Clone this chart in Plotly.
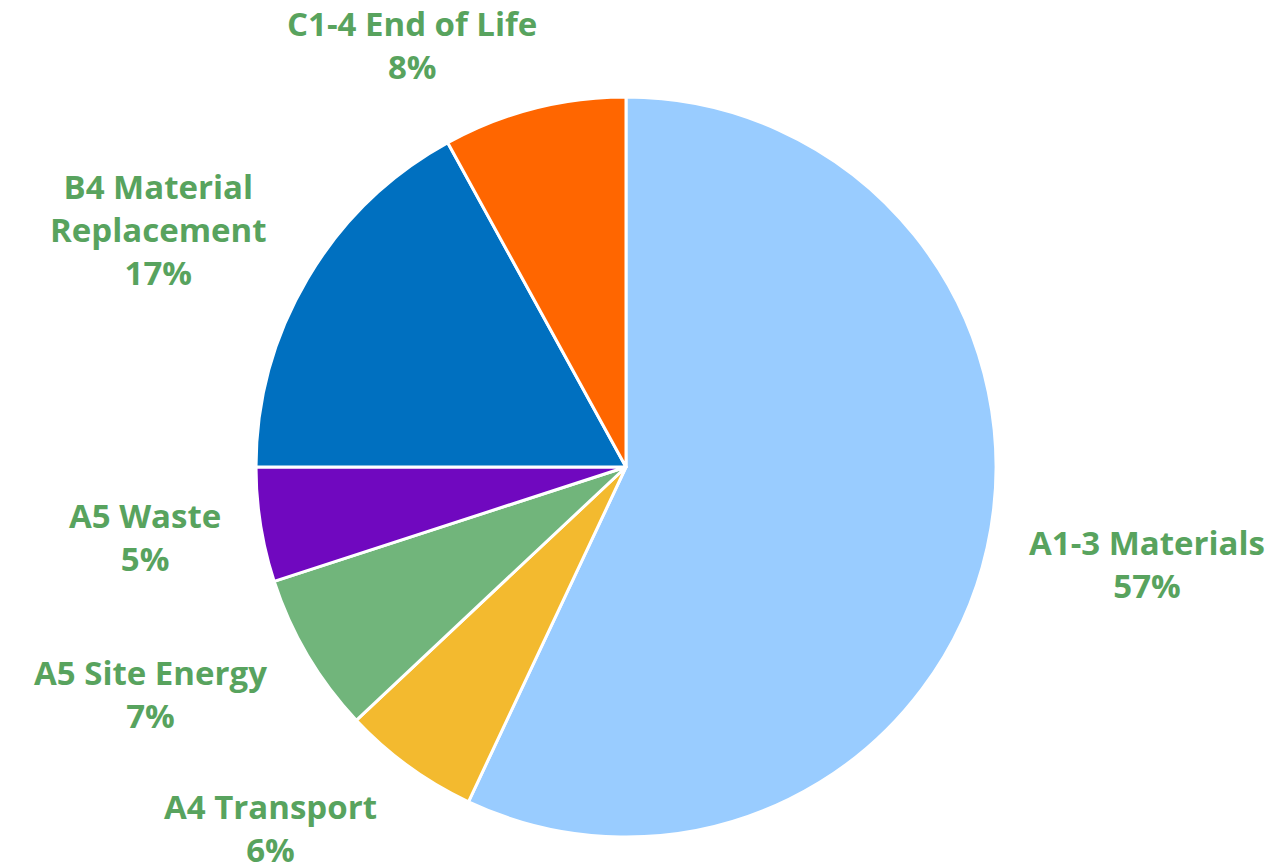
import plotly.graph_objects as go

categories = ["A1-3 Materials", "A4 Transport", "A5 Site Energy", "A5 Waste",
              "B4 Material Replacement", "C1-4 End of Life"]
label_text = ["A1-3 Materials", "A4 Transport", "A5 Site Energy", "A5 Waste",
              "B4 Material<br>Replacement", "C1-4 End of Life"]
values = [57, 6, 7, 5, 17, 8]
colors = ["#99CCFF", "#F3BA2F", "#71B57B", "#7008BF", "#0070C0", "#FF6600"]

# label anchor positions (pixels in the reference canvas)
label_pos = [(1147, 564), (270, 828), (150, 694), (145, 537), (158, 230), (412, 45)]

W, H = 1286, 865
OFF = 8  # page body margin


def px(x):
    return (x - OFF) / W


def py(y):
    return 1 - (y - OFF) / H


fig = go.Figure()
fig.add_trace(go.Pie(
    labels=categories, values=values, sort=False, direction="clockwise",
    rotation=0, textinfo="none", hoverinfo="label+percent",
    marker=dict(colors=colors, line=dict(color="white", width=3)),
    domain=dict(x=[px(256), px(996)], y=[py(837), py(97)]),
    showlegend=False,
))

for txt, v, (lx, ly) in zip(label_text, values, label_pos):
    fig.add_annotation(
        x=px(lx), y=py(ly), xref="paper", yref="paper",
        text=f"{txt}<br>{v}%", showarrow=False, xanchor="center", yanchor="middle",
        font=dict(family="Open Sans", size=33, color="#58A35E", weight="bold"),
        align="center",
    )

fig.add_shape(type="circle", xref="paper", yref="paper",
              x0=px(-9), x1=px(49), y0=py(8), y1=py(-50),
              fillcolor="#2E6B3A", line=dict(width=0), layer="above")

fig.update_layout(width=W, height=H, margin=dict(l=0, r=0, t=0, b=0),
                  paper_bgcolor="white", plot_bgcolor="white")
fig.write_html("out.html")
